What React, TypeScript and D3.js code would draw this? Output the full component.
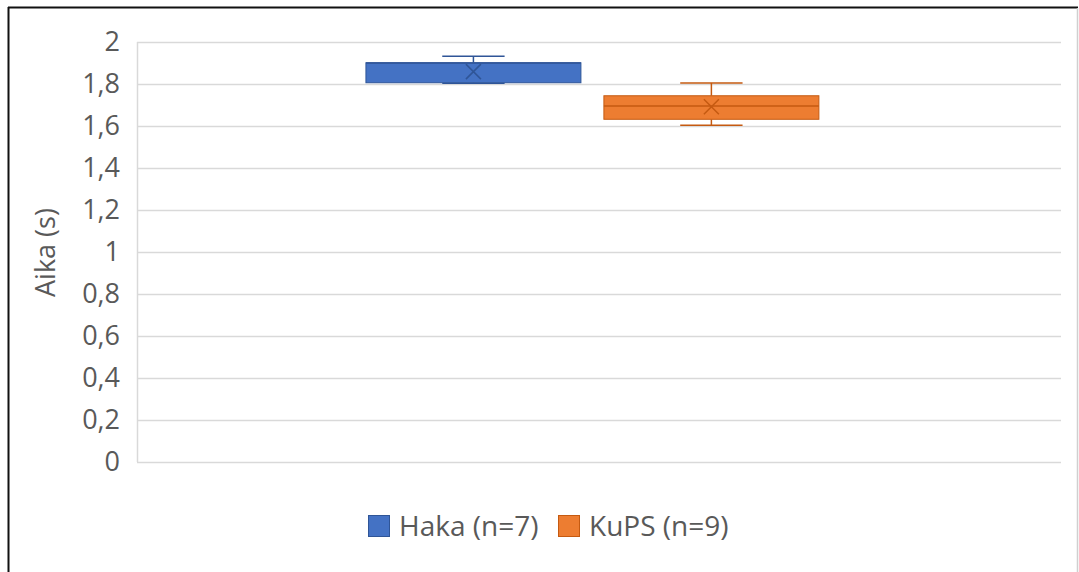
import { useEffect, useRef } from 'react';
import * as d3 from 'd3';

// single category, two series (box & whisker)
const seriesNames = ['Haka (n=7)', 'KuPS (n=9)'];
const seriesColors = ['#4472C4', '#ED7D31'];
const seriesStroke = ['#2F5597', '#C55A11'];
const whiskerLow = [1.803, 1.603];
const q1Values = [1.806, 1.632];
const medianValues = [1.9, 1.695];
const q3Values = [1.901, 1.744];
const whiskerHigh = [1.932, 1.805];
const meanValues = [1.859, 1.692];
const yTicks = [0, 0.2, 0.4, 0.6, 0.8, 1, 1.2, 1.4, 1.6, 1.8, 2];

const W = 1079;
const H = 572;
const FONT = '"Open Sans", sans-serif';
const TEXT = '#595959';

export default function App() {
  const svgRef = useRef<SVGSVGElement>(null);

  useEffect(() => {
    if (!svgRef.current) return;
    const svg = d3.select(svgRef.current);
    svg.selectAll('*').remove();

    const margin = { top: 42, right: 18, bottom: 110, left: 137 };
    const innerWidth = W - margin.left - margin.right;
    const innerHeight = H - margin.top - margin.bottom;

    // frame
    svg.append('rect').attr('x', 0).attr('y', 0).attr('width', W).attr('height', H).attr('fill', '#fff');
    svg.append('line').attr('x1', 8.5).attr('x2', 8.5).attr('y1', 7).attr('y2', H).attr('stroke', '#111').attr('stroke-width', 2);
    svg.append('line').attr('x1', 8).attr('x2', 1078).attr('y1', 7.5).attr('y2', 7.5).attr('stroke', '#111').attr('stroke-width', 2);
    svg.append('line').attr('x1', 1077.5).attr('x2', 1077.5).attr('y1', 8).attr('y2', H).attr('stroke', '#d0d0d0').attr('stroke-width', 1.5);

    const g = svg.append('g').attr('transform', `translate(${margin.left}, ${margin.top})`);

    const y = d3.scaleLinear().domain([0, 2]).range([innerHeight, 0]);
    const band = d3.scaleBand().domain(['c']).range([0, innerWidth]).paddingOuter(0.52).align(0.486);
    const bandStart = band('c') || 0;
    const x = d3.scaleBand().domain(seriesNames).range([bandStart, bandStart + band.bandwidth()]).paddingInner(0.0966);

    // gridlines
    g.append('g')
      .selectAll('line')
      .data(yTicks)
      .enter()
      .append('line')
      .attr('x1', 0)
      .attr('x2', innerWidth)
      .attr('y1', d => Math.round(y(d)) + 0.5)
      .attr('y2', d => Math.round(y(d)) + 0.5)
      .attr('stroke', '#d9d9d9')
      .attr('stroke-width', 1.5);

    g.append('line')
      .attr('x1', 0.5).attr('x2', 0.5)
      .attr('y1', 0).attr('y2', innerHeight)
      .attr('stroke', '#d9d9d9').attr('stroke-width', 1.5);

    // y axis labels
    const yAxis = g.append('g').call(d3.axisLeft(y).tickValues(yTicks).tickSize(0).tickPadding(17).tickFormat(d => String(d).replace('.', ',')));
    yAxis.select('.domain').remove();
    yAxis.selectAll('text').attr('fill', TEXT).attr('font-size', 27).attr('font-family', FONT);

    // y title
    svg.append('text')
      .attr('transform', `translate(55, ${margin.top + innerHeight / 2 + 45}) rotate(-90)`)
      .attr('text-anchor', 'start')
      .attr('fill', TEXT)
      .attr('font-size', 27)
      .attr('font-family', FONT)
      .text('Aika (s)');

    // boxes
    seriesNames.forEach((name, i) => {
      const x0 = x(name) || 0;
      const bw = x.bandwidth();
      const cx = x0 + bw / 2;
      const capW = bw * 0.29;
      const box = g.append('g');
      const stroke = seriesStroke[i];

      box.append('line').attr('x1', cx).attr('x2', cx).attr('y1', y(whiskerHigh[i])).attr('y2', y(q3Values[i])).attr('stroke', stroke).attr('stroke-width', 1.5);
      box.append('line').attr('x1', cx).attr('x2', cx).attr('y1', y(q1Values[i])).attr('y2', y(whiskerLow[i])).attr('stroke', stroke).attr('stroke-width', 1.5);
      box.append('line').attr('x1', cx - capW / 2).attr('x2', cx + capW / 2).attr('y1', y(whiskerHigh[i])).attr('y2', y(whiskerHigh[i])).attr('stroke', stroke).attr('stroke-width', 1.5);
      box.append('line').attr('x1', cx - capW / 2).attr('x2', cx + capW / 2).attr('y1', y(whiskerLow[i])).attr('y2', y(whiskerLow[i])).attr('stroke', stroke).attr('stroke-width', 1.5);

      box.append('rect')
        .attr('x', x0)
        .attr('y', y(q3Values[i]))
        .attr('width', bw)
        .attr('height', y(q1Values[i]) - y(q3Values[i]))
        .attr('fill', seriesColors[i])
        .attr('stroke', stroke)
        .attr('stroke-width', 1);

      box.append('line').attr('x1', x0).attr('x2', x0 + bw).attr('y1', y(medianValues[i])).attr('y2', y(medianValues[i])).attr('stroke', stroke).attr('stroke-width', 1.5);

      const my = y(meanValues[i]);
      const s = 7.5;
      box.append('path')
        .attr('d', `M${cx - s},${my - s}L${cx + s},${my + s}M${cx - s},${my + s}L${cx + s},${my - s}`)
        .attr('stroke', stroke)
        .attr('stroke-width', 1.5)
        .attr('fill', 'none');
    });

    // legend
    const legendX = [368, 558];
    const legend = svg.append('g').attr('transform', 'translate(0, 526)');
    seriesNames.forEach((name, i) => {
      const item = legend.append('g').attr('transform', `translate(${legendX[i]}, 0)`);
      item.append('rect').attr('x', 0.5).attr('y', -10.5).attr('width', 21).attr('height', 21).attr('fill', seriesColors[i]).attr('stroke', seriesStroke[i]).attr('stroke-width', 1);
      item.append('text')
        .attr('x', 31)
        .attr('y', 0)
        .attr('dy', '0.36em')
        .attr('fill', TEXT)
        .attr('font-size', 28)
        .attr('font-family', FONT)
        .text(name);
    });
  }, []);

  return (
    <div style={{ position: 'absolute', left: 0, top: 0 }}>
      <svg ref={svgRef} width={W} height={H} style={{ display: 'block' }}></svg>
    </div>
  );
}
